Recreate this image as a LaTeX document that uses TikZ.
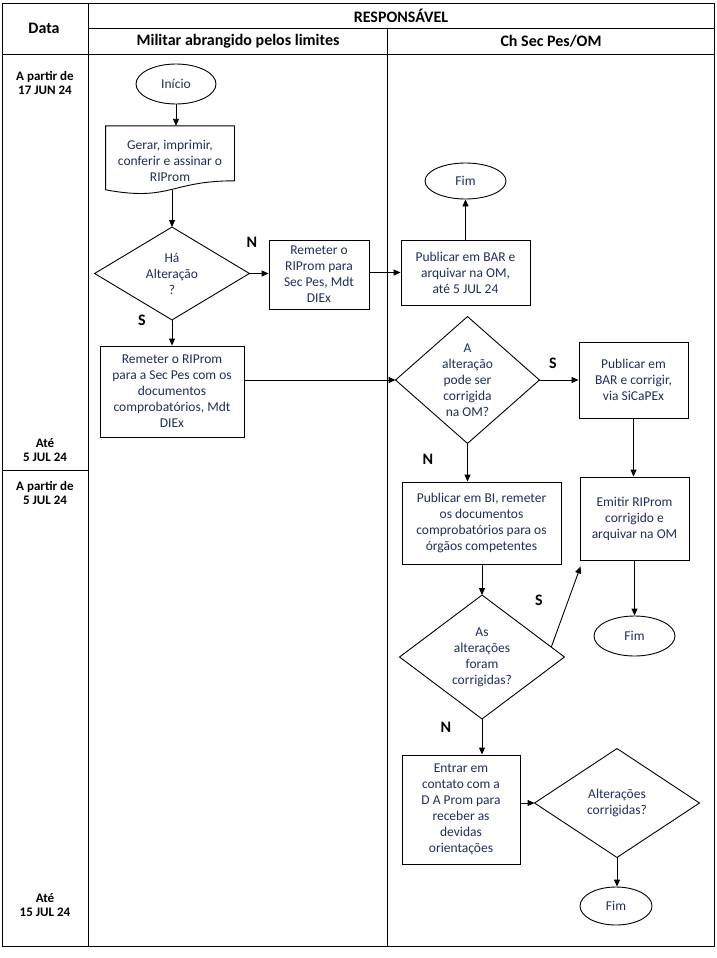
\documentclass[tikz,border=0pt]{standalone}
\usepackage{fontspec}
\setmainfont{Carlito}
\usetikzlibrary{arrows.meta,shapes.geometric,calc}
\definecolor{txt}{RGB}{31,45,90}
\begin{document}
\begin{tikzpicture}[x=1pt,y=-1pt, line width=0.9pt,
  nf/.style={font=\fontsize{13.5}{16}\selectfont, text=txt, align=center, inner sep=0pt},
  box/.style={nf, draw, rectangle},
  term/.style={nf, draw, ellipse},
  dtxt/.style={nf, rectangle},
  lbl/.style={font=\bfseries\fontsize{16}{18}\selectfont, inner sep=0pt},
  hdr/.style={font=\bfseries\fontsize{16}{18}\selectfont, inner sep=0pt},
  datel/.style={font=\bfseries\fontsize{13}{14}\selectfont, align=center, inner sep=0pt},
  arr/.style={-{Triangle[length=7pt,width=6pt]}}
]
\useasboundingbox (0,0) rectangle (717,958);
% table
\draw (2,3) rectangle (714,946);
\draw (88,3) -- (88,946);
\draw (88,28) -- (714,28);
\draw (2,54) -- (714,54);
\draw (387,28) -- (387,946);
\draw (2,470) -- (88,470);
\node[hdr] (hdata) at (44,28) {Data};
\node[hdr] (hresp) at (401,16) {RESPONSÁVEL};
\node[hdr] (hmil) at (238,41) {Militar abrangido pelos limites};
\node[hdr] (hch) at (551,41) {Ch Sec Pes/OM};
\node[datel] (d1) at (45,83) {A partir de\\17 JUN 24};
\node[datel] (d2) at (45,450) {Até\\5 JUL 24};
\node[datel] (d3) at (45,493) {A partir de\\5 JUL 24};
\node[datel] (d4) at (45,905) {Até\\15 JUL 24};
% nodes
\node[term, minimum width=80, minimum height=40] (inicio) at (176,84) {Início};
\node[dtxt, minimum width=128, minimum height=68.5] (gerar) at (170,160.5) {Gerar, imprimir,\\conferir e assinar o\\RIProm};
\draw (gerar.north west) -- (gerar.north east) -- ($(gerar.north east)+(0,55)$)
  .. controls ($(gerar.north)+(0,55)$) and ($(gerar.north)+(0,76)$) .. ($(gerar.north west)+(0,64)$) -- cycle;
\coordinate (gb) at ($(gerar.north)+(2,64)$);
\node[dtxt, minimum width=154, minimum height=92] (ha) at (172,273.5) {Há\\Alteração\\?};
\draw (ha.north) -- (ha.east) -- (ha.south) -- (ha.west) -- cycle;
\node[box, minimum width=100, minimum height=69] (rem1) at (319,274.5) {Remeter o\\RIProm para\\Sec Pes, Mdt\\DIEx};
\node[box, minimum width=144, minimum height=91] (rem2) at (172,391.5) {Remeter o RIProm\\para a Sec Pes com os\\documentos\\comprobatórios, Mdt\\DIEx};
\node[box, minimum width=129, minimum height=65] (pub1) at (465.5,272.5) {Publicar em BAR e\\arquivar na OM,\\até 5 JUL 24};
\node[term, minimum width=81, minimum height=36] (fim1) at (465.5,181) {Fim};
\node[dtxt, minimum width=143, minimum height=126] (alt1) at (467.5,380) {A\\alteração\\pode ser\\corrigida\\na OM?};
\draw (alt1.north) -- (alt1.east) -- (alt1.south) -- (alt1.west) -- cycle;
\node[box, minimum width=109, minimum height=76] (pub2) at (633.5,380) {Publicar em\\BAR e corrigir,\\via SiCaPEx};
\node[box, minimum width=159, minimum height=82] (bi) at (481.5,523) {Publicar em BI, remeter\\os documentos\\comprobatórios para os\\órgãos competentes};
\node[box, minimum width=109, minimum height=83] (emitir) at (634.5,518.5) {Emitir RIProm\\corrigido e\\arquivar na OM};
\node[dtxt, minimum width=164, minimum height=123] (alt2) at (482,657) {As\\alterações\\foram\\corrigidas?};
\draw (alt2.north) -- (alt2.east) -- (alt2.south) -- (alt2.west) -- cycle;
\node[term, minimum width=81, minimum height=40] (fim2) at (634.5,636) {Fim};
\node[box, minimum width=118, minimum height=109] (entrar) at (461,809.5) {Entrar em\\contato com a\\D A Prom para\\receber as\\devidas\\orientações};
\node[dtxt, minimum width=164, minimum height=108] (alt3) at (617,803) {Alterações\\corrigidas?};
\draw (alt3.north) -- (alt3.east) -- (alt3.south) -- (alt3.west) -- cycle;
\node[term, minimum width=72, minimum height=38] (fim3) at (616,906) {Fim};
% connectors
\draw[arr] (inicio.south) -- (inicio.south |- gerar.north);
\draw[arr] (gb) -- (ha.north);
\draw[arr] (ha.east) -- (ha.east -| rem1.west);
\draw[arr] (ha.south) -- (ha.south |- rem2.north);
\draw[arr] (rem1.east |- pub1.west) -- (pub1.west);
\draw[arr] (pub1.north) -- (fim1.south);
\draw[arr] (rem2.east |- alt1.west) -- (alt1.west);
\draw[arr] (alt1.east) -- (alt1.east -| pub2.west);
\draw[arr] (alt1.south) -- (alt1.south |- bi.north);
\draw[arr] (pub2.south) -- (pub2.south |- emitir.north);
\draw[arr] (bi.south -| alt2.north) -- (alt2.north);
\coordinate (s2) at ($(alt2.north)!0.84!(alt2.east)$);
\coordinate (s2end) at ($(emitir.south west)+(1,6)$);
\draw[arr] (s2) -- (s2end);
\draw[arr] (emitir.south -| fim2.north) -- (fim2.north);
\draw[arr] (alt2.south) -- (alt2.south |- entrar.north);
\draw[arr] (entrar.east |- alt3.west) -- (alt3.west);
\draw[arr] (alt3.south) -- (alt3.south |- fim3.north);
% labels
\node[lbl] (n1) at (252,242) {N};
\node[lbl] (s1) at (142,320) {S};
\node[lbl] (s3) at (553,363) {S};
\node[lbl] (n3) at (428,459) {N};
\node[lbl] (s4) at (539,600) {S};
\node[lbl] (n4) at (446,727) {N};
\end{tikzpicture}
\end{document}
